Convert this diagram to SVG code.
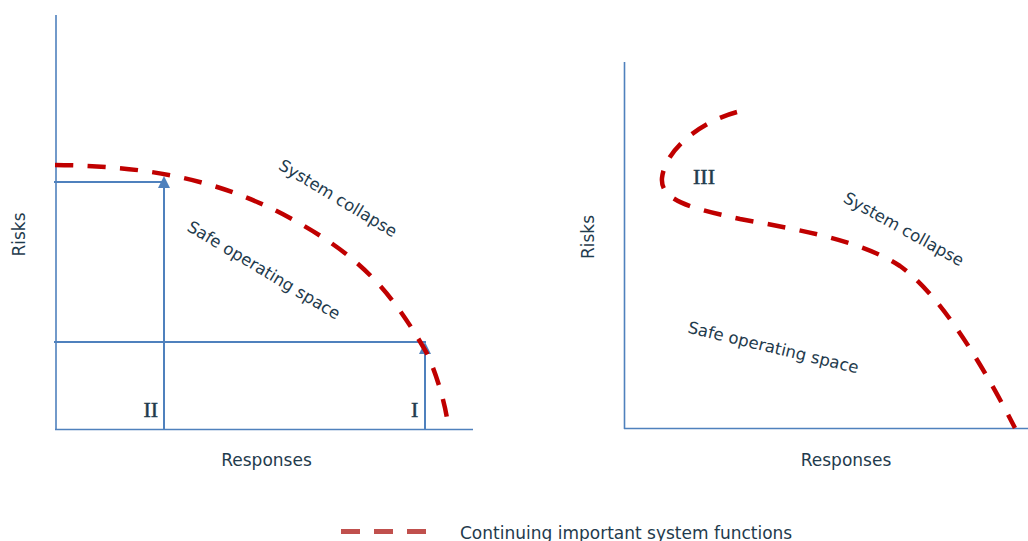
<svg xmlns="http://www.w3.org/2000/svg" width="1028" height="541" viewBox="0 0 1028 541">
<defs>
<style>
.ax{stroke:#4F81BD;stroke-width:1.6;fill:none}
.ln{stroke:#4F81BD;stroke-width:2;fill:none}
.crv{stroke:#C00000;stroke-width:4.5;fill:none;stroke-dasharray:18 14.5}
.lbl{font-family:"DejaVu Sans",Verdana,sans-serif;font-size:17px;fill:#1F3B4D}
.rot{font-family:"DejaVu Sans",Verdana,sans-serif;font-size:16.5px;fill:#1F3B4D}
.num{font-family:"Liberation Serif","Times New Roman",serif;font-size:22px;fill:#1F3B4D;stroke:#1F3B4D;stroke-width:0.5}
</style>
</defs>
<rect width="1028" height="541" fill="#ffffff"/>
<g id="left-chart">
<g id="left-axes">
<line class="ax" x1="56" y1="15" x2="56" y2="430"/>
<line class="ax" x1="55" y1="429.5" x2="473" y2="429.5"/>
</g>
<g id="connectors">
<line class="ln" x1="54" y1="182" x2="164" y2="182"/>
<line class="ln" x1="54" y1="342" x2="426" y2="342"/>
<path class="ln" d="M164,430 V186"/>
<path d="M158,188 L164,176 L170,188 Z" fill="#4F81BD"/>
<path class="ln" d="M425,430 V352"/>
<path d="M419,354 L425,342 L431,354 Z" fill="#4F81BD"/>
</g>
<path id="left-curve" class="crv" d="M55,165 C150,166 220,180 290,218 C360,256 390,290 425,350 C433,364 445,400 448,425"/>
<text class="lbl" transform="translate(25,234.5) rotate(-90)" text-anchor="middle">Risks</text>
<text class="lbl" x="266.5" y="466" text-anchor="middle">Responses</text>
<text class="rot" transform="translate(335,203) rotate(31)" text-anchor="middle">System collapse</text>
<text class="rot" transform="translate(261,275) rotate(31)" text-anchor="middle">Safe operating space</text>
<g id="label-II"><text class="num" x="143.5" y="417">II</text></g>
<g id="label-I"><text class="num" x="411" y="417">I</text></g>
</g>
<g id="right-chart">
<g id="right-axes">
<line class="ax" x1="624.5" y1="62" x2="624.5" y2="429"/>
<line class="ax" x1="624" y1="428.5" x2="1028" y2="428.5"/>
</g>
<path id="right-curve" class="crv" d="M737,112 C700,122 665,150 662,178 C660,200 690,208 740,219 C800,230 860,240 900,266 C940,295 980,360 1015,428"/>
<text class="lbl" transform="translate(594,237) rotate(-90)" text-anchor="middle">Risks</text>
<text class="lbl" x="846" y="466" text-anchor="middle">Responses</text>
<text class="rot" transform="translate(901,234) rotate(29)" text-anchor="middle">System collapse</text>
<text class="rot" transform="translate(772,353) rotate(13.5)" text-anchor="middle">Safe operating space</text>
<g id="label-III"><text class="num" x="693" y="184">III</text></g>
</g>
<g id="legend">
<line x1="341" y1="531.5" x2="427" y2="531.5" stroke="#C0504D" stroke-width="5" stroke-dasharray="19 14"/>
<text class="lbl" x="460" y="539">Continuing important system functions</text>
</g>
</svg>
